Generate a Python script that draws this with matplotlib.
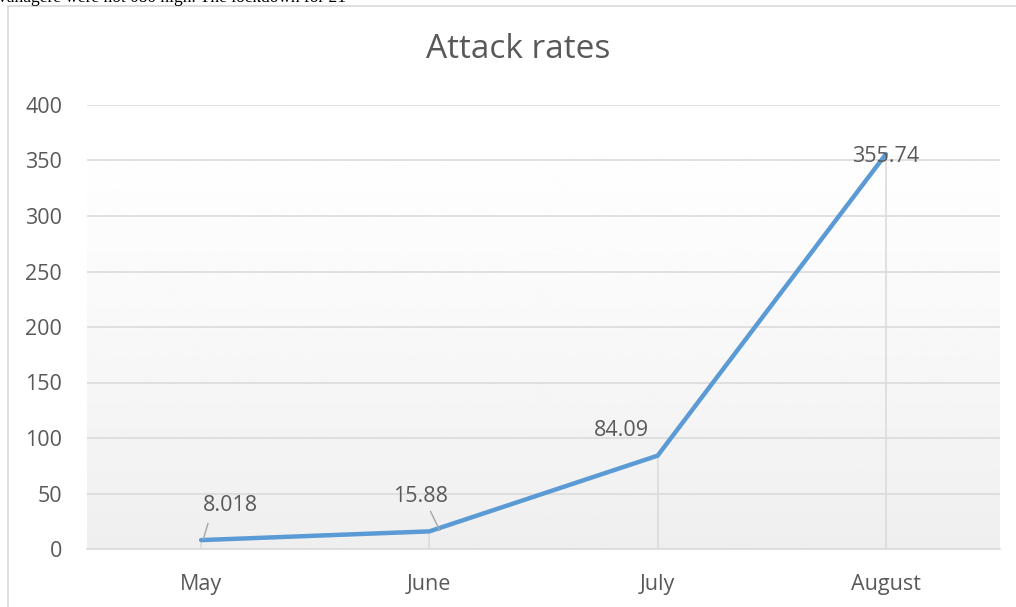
import numpy as np
import matplotlib.pyplot as plt
from matplotlib.patches import Rectangle

months = ["May", "June", "July", "August"]
attack_rates = [8.018, 15.88, 84.09, 355.74]
value_labels = ["8.018", "15.88", "84.09", "355.74"]
y_ticks = [0, 50, 100, 150, 200, 250, 300, 350, 400]
title = "Attack rates"
page_text = "vanagere were not 080 high. The lockdown for 21"

W, H = 1016, 607
plt.rcParams['font.family'] = ['Open Sans', 'DejaVu Sans']
grey_text = '#595959'
grid_col = '#d9d9d9'

fig = plt.figure(figsize=(W / 100, H / 100), dpi=100)

# chart frame (cut off on right and bottom) and the page text above it
fig.patches.append(Rectangle((8 / W, -0.1), 1.2, (H - 6) / H + 0.1, transform=fig.transFigure,
                             facecolor='white', edgecolor=grid_col, linewidth=1.2, zorder=-5))
fig.text(-2 / W, (H - 2.5) / H, page_text, family='Liberation Serif', fontsize=12.5,
         color='black', va='baseline', ha='left')

ax = fig.add_axes([87 / W, (H - 549) / H, (1000 - 87) / W, (549 - 105) / H])
ax.set_facecolor('none')
x = np.arange(len(months))

# gradient plot area: white at top, light grey at bottom
grad = np.linspace(0, 1, 256).reshape(-1, 1) ** 1.3
ax.imshow(1 - grad * 0.065, cmap='gray', vmin=0, vmax=1, aspect='auto',
          extent=(-0.5, len(months) - 0.5, 0, 400), zorder=0, origin='upper')

ax.set_xlim(-0.5, len(months) - 0.5)
ax.set_ylim(0, 400)
ax.set_yticks(y_ticks)
ax.set_xticks(x)
ax.set_xticklabels(months)
ax.yaxis.grid(True, color=grid_col, linewidth=1.1, zorder=1)
ax.set_axisbelow(False)
for sp in ['top', 'right', 'left']:
    ax.spines[sp].set_visible(False)
ax.spines['bottom'].set_color(grid_col)
ax.spines['bottom'].set_linewidth(1.1)
ax.tick_params(length=0, labelsize=15.5, colors=grey_text)
ax.tick_params(axis='x', pad=18)
ax.tick_params(axis='y', pad=18)

# drop lines
ax.vlines(x, 0, attack_rates, color=grid_col, linewidth=1.1, zorder=2)
ax.plot(x, attack_rates, color='#5b9bd5', linewidth=3.2, solid_capstyle='round', zorder=3)

# data labels
offsets = [(0.13, 31), (-0.04, 31), (-0.16, 23), (0.0, -2)]
for i, (lab, v) in enumerate(zip(value_labels, attack_rates)):
    dx, dy = offsets[i]
    ax.text(i + dx, v + dy, lab, ha='center', va='center', fontsize=15.5,
            color=grey_text, zorder=4)
# leader lines for the first two labels
ax.plot([0.01, 0.03], [attack_rates[0] + 1, attack_rates[0] + 15], color='#a6a6a6', lw=1, zorder=4)
ax.plot([1.045, 1.005], [attack_rates[1] + 1, attack_rates[1] + 18], color='#a6a6a6', lw=1, zorder=4)

fig.text(518 / W, (H - 50) / H, title, ha='center', va='center', fontsize=24, color=grey_text)

fig.savefig('out.png', dpi=100)
